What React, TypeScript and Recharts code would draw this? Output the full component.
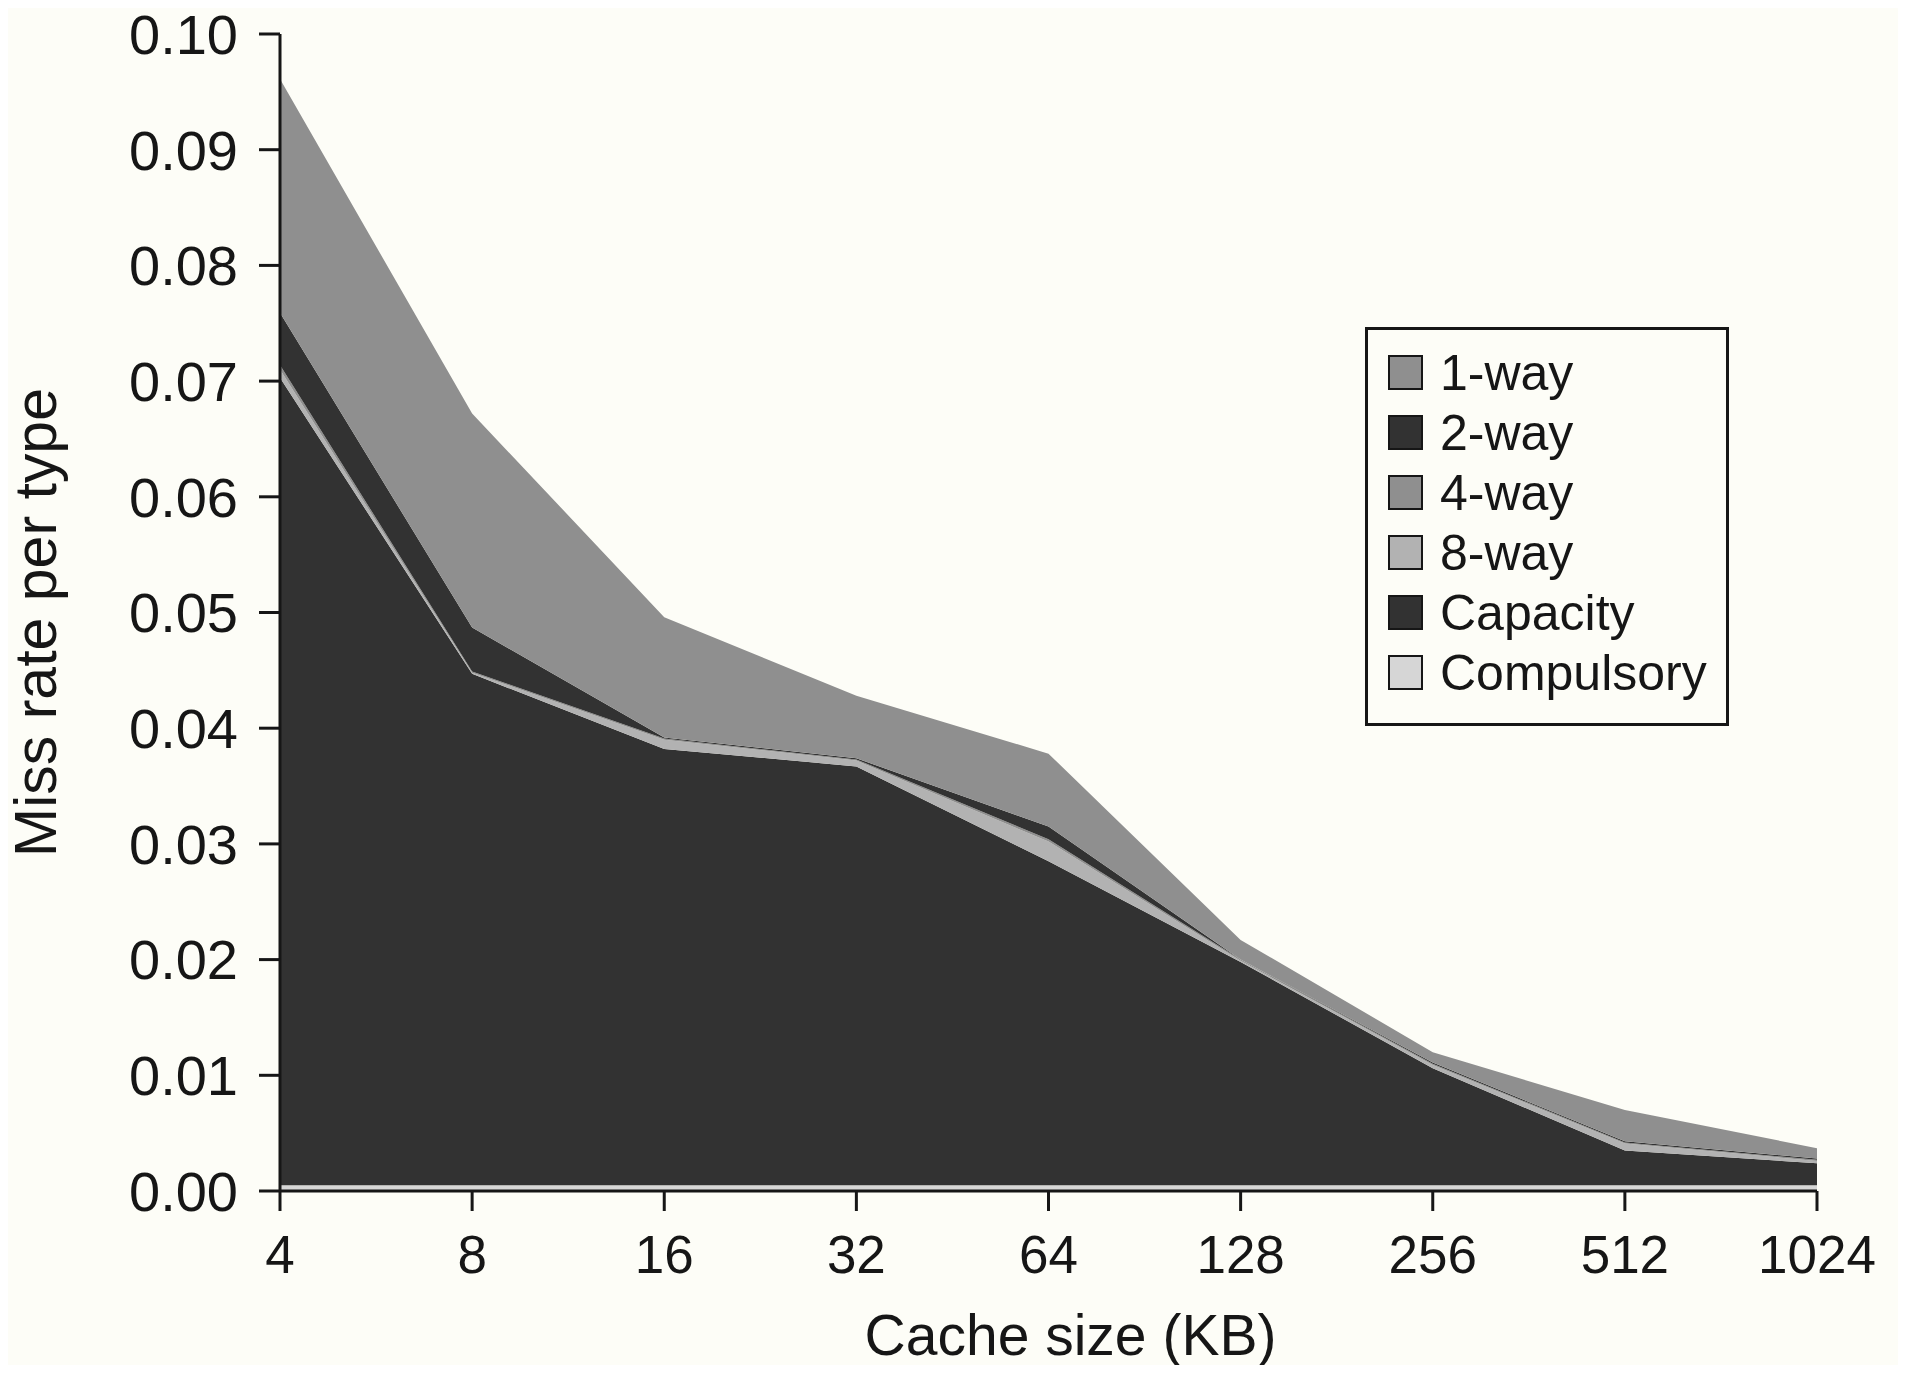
import React from 'react';
import { AreaChart, Area, XAxis, YAxis, Legend } from 'recharts';

const FONT = '"Liberation Sans", Arial, Helvetica, sans-serif';
const INK = '#161616';

const cacheSizes = ['4', '8', '16', '32', '64', '128', '256', '512', '1024'];

// miss rate contributed by each type (stacked from bottom to top)
const compulsory = [0.0005, 0.0005, 0.0005, 0.0005, 0.0005, 0.0005, 0.0005, 0.0005, 0.0005];
const capacity = [0.0698, 0.0442, 0.0377, 0.0362, 0.028, 0.0193, 0.0101, 0.003, 0.0019];
const way8 = [0.0007, 0.0001, 0.0008, 0.0005, 0.0017, 0.0001, 0.0003, 0.0006, 0.0002];
const way4 = [0.0004, 0.0001, 0.0001, 0.0001, 0.0002, 0.0001, 0.0001, 0.0001, 0.0001];
const way2 = [0.0045, 0.0038, 0.0001, 0.0001, 0.0011, 0.0, 0.0001, 0.0001, 0.0001];
const way1 = [0.0202, 0.0185, 0.0104, 0.0054, 0.0063, 0.0017, 0.0009, 0.0027, 0.0009];

const yTicks = [0, 0.01, 0.02, 0.03, 0.04, 0.05, 0.06, 0.07, 0.08, 0.09, 0.1];

const series = [
  { key: 'compulsory', name: 'Compulsory', color: '#d6d6d6', values: compulsory },
  { key: 'capacity', name: 'Capacity', color: '#323232', values: capacity },
  { key: 'way8', name: '8-way', color: '#b2b2b2', values: way8 },
  { key: 'way4', name: '4-way', color: '#8f8f8f', values: way4 },
  { key: 'way2', name: '2-way', color: '#323232', values: way2 },
  { key: 'way1', name: '1-way', color: '#8f8f8f', values: way1 },
];

const legendOrder = ['way1', 'way2', 'way4', 'way8', 'capacity', 'compulsory'];

const data = cacheSizes.map((size, i) => {
  const row: Record<string, number | string> = { size };
  series.forEach((s) => {
    row[s.key] = s.values[i];
  });
  return row;
});

const LegendBox = (props: any) => {
  const payload = props.payload || [];
  const items = legendOrder
    .map((k) => payload.find((p: any) => p.dataKey === k))
    .filter(Boolean);
  return (
    <div
      style={{
        boxSizing: 'border-box',
        width: 364,
        height: 399,
        border: `3px solid ${INK}`,
        padding: '25px 0 0 20px',
        fontFamily: FONT,
      }}
    >
      {items.map((it: any) => {
        const s = series.find((x) => x.key === it.dataKey);
        return (
          <div
            key={String(it.dataKey)}
            style={{ display: 'flex', alignItems: 'center', height: 35, marginBottom: 25 }}
          >
            <span
              style={{
                boxSizing: 'border-box',
                display: 'inline-block',
                width: 35,
                height: 35,
                border: `2.5px solid ${INK}`,
                background: s ? s.color : it.color,
                marginRight: 17,
                flex: 'none',
              }}
            />
            <span style={{ fontSize: 50, lineHeight: 1, color: INK, whiteSpace: 'nowrap' }}>
              {s ? s.name : it.value}
            </span>
          </div>
        );
      })}
    </div>
  );
};

const YTitle = (props: any) => {
  const vb = props.viewBox || {};
  const x = vb.x - 24;
  const y = vb.y + vb.height / 2 + 10;
  return (
    <text
      x={x}
      y={y}
      transform={`rotate(-90 ${x} ${y})`}
      textAnchor="middle"
      fontSize={59}
      fill={INK}
      fontFamily={FONT}
    >
      Miss rate per type
    </text>
  );
};

const XTitle = (props: any) => {
  const vb = props.viewBox || {};
  const x = vb.x + vb.width / 2 + 22;
  const y = vb.y + 164;
  return (
    <text x={x} y={y} textAnchor="middle" fontSize={57} fill={INK} fontFamily={FONT}>
      Cache size (KB)
    </text>
  );
};

export default function App() {
  return (
    <div style={{ margin: -8, width: 1906, height: 1373, background: '#fdfdf7', fontFamily: FONT }}>
      <AreaChart
        width={1906}
        height={1373}
        data={data}
        margin={{ top: 34, right: 89, bottom: 82, left: 80 }}
      >
        <XAxis
          dataKey="size"
          interval={0}
          height={100}
          tickSize={20}
          tickMargin={24}
          axisLine={{ stroke: INK, strokeWidth: 3 }}
          tickLine={{ stroke: INK, strokeWidth: 3 }}
          tick={{ fontSize: 53, fill: INK, fontFamily: FONT }}
          label={<XTitle />}
        />
        <YAxis
          type="number"
          domain={[0, 0.1]}
          ticks={yTicks}
          width={200}
          tickSize={21}
          tickMargin={21}
          tickFormatter={(v: number) => v.toFixed(2)}
          axisLine={{ stroke: INK, strokeWidth: 3 }}
          tickLine={{ stroke: INK, strokeWidth: 3 }}
          tick={{ fontSize: 56, fill: INK, fontFamily: FONT }}
          label={<YTitle />}
          allowDataOverflow
        />
        {series.map((s) => (
          <Area
            key={s.key}
            type="linear"
            dataKey={s.key}
            name={s.name}
            stackId="miss"
            stroke="none"
            fill={s.color}
            fillOpacity={1}
            dot={false}
            activeDot={false}
            isAnimationActive={false}
          />
        ))}
        <Legend
          layout="horizontal"
          verticalAlign="middle"
          align="center"
          width={364}
          height={399}
          content={<LegendBox />}
          wrapperStyle={{ left: 1365, top: 327, width: 364, height: 399 }}
        />
      </AreaChart>
    </div>
  );
}
